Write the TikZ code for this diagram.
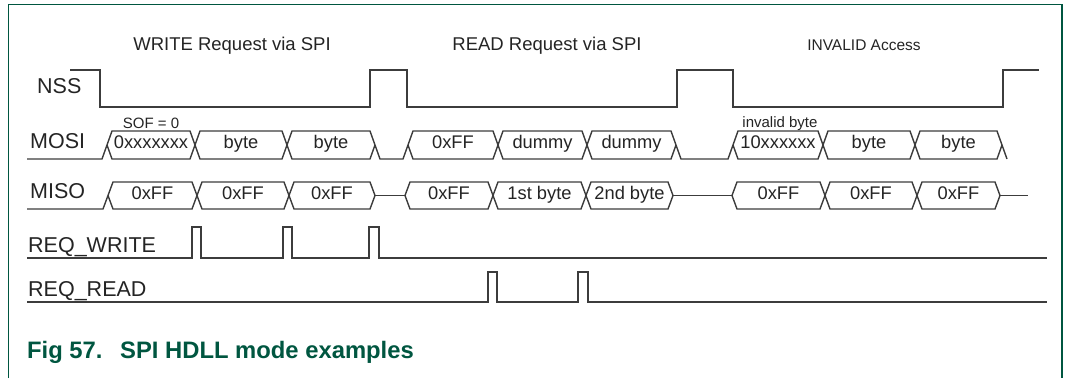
\documentclass[tikz,border=0pt]{standalone}
\usepackage{fontspec}
\setmainfont{Liberation Sans}
\definecolor{nxpgreen}{RGB}{0,86,64}
\definecolor{sig}{RGB}{60,60,60}
\definecolor{txt}{RGB}{36,36,36}
\newcommand\bcell[6]{% #1 xa, #2 xb, #3 top, #4 bottom, #5 name, #6 text
  \draw[wave] (#1,{(#3+#4)/2}) -- ({#1+5},#3) -- ({#2-5},#3) -- (#2,{(#3+#4)/2}) -- ({#2-5},#4) -- ({#1+5},#4) -- cycle;
  \node[celltext] (#5) at ({(#1+#2)/2},{(#3+#4)/2}) {#6};
}
\begin{document}
\begin{tikzpicture}[x=1pt,y=-1pt,
  wave/.style={draw=sig, line width=1.4pt, line join=miter},
  celltext/.style={font=\fontsize{18.3}{18.3}\selectfont, text=txt, inner sep=0pt, text height=0.716em, text depth=0pt},
  siglabel/.style={font=\fontsize{21.5}{21.5}\selectfont, text=txt, inner sep=0pt, text height=0.716em, text depth=0pt, anchor=west},
  title/.style={font=\fontsize{18.5}{18.5}\selectfont, text=txt, inner sep=0pt, text height=0.716em, text depth=0pt},
  note/.style={font=\fontsize{15}{15}\selectfont, text=txt, inner sep=0pt, anchor=base},
  caption/.style={font=\fontsize{23.8}{23.8}\selectfont\bfseries, text=nxpgreen, inner sep=0pt, text height=0.716em, text depth=0pt, anchor=west}]
\useasboundingbox (0,0) rectangle (1066,378);
% frame
\draw[nxpgreen, line width=1.4pt] (8.5,378) -- (8.5,4.5) -- (1062,4.5) -- (1062,378);

% titles
\node[title] (t1) at (232,47) {WRITE Request via SPI};
\node[title] (t2) at (547,47) {READ Request via SPI};
\node[title, font=\fontsize{15.5}{15.5}\selectfont] (t3) at (864,47) {INVALID Access};

% labels
\node[siglabel] (lnss) at (37,90) {NSS};
\node[siglabel] (lmosi) at (30,145) {MOSI};
\node[siglabel] (lmiso) at (30,194.5) {MISO};
\node[siglabel] (lrw) at (28,248.5) {REQ\_WRITE};
\node[siglabel] (lrr) at (28,292.5) {REQ\_READ};

% NSS
\draw[wave] (70,70) -- (100,70) -- (100,107) -- (370,107) -- (370,70) -- (407,70) -- (407,107)
  -- (677,107) -- (677,70) -- (733,70) -- (733,107) -- (1003,107) -- (1003,70) -- (1039,70);

% MOSI
\draw[wave] (27,159) -- (102,159) -- (107,145);
\bcell{107}{195}{131}{159}{mo1}{0xxxxxxx}
\bcell{195}{287}{131}{159}{mo2}{byte}
\bcell{287}{375}{131}{159}{mo3}{byte}
\draw[wave] (375,145) -- (380,159) -- (403,159) -- (408,145);
\bcell{408}{498}{131}{159}{mo4}{0xFF}
\bcell{498}{587}{131}{159}{mo5}{dummy}
\bcell{587}{676}{131}{159}{mo6}{dummy}
\draw[wave] (676,145) -- (681,159) -- (728,159) -- (733,145);
\bcell{733}{823}{131}{159}{mo7}{10xxxxxx}
\bcell{823}{915}{131}{159}{mo8}{byte}
\bcell{915}{1002}{131}{159}{mo9}{byte}
\draw[wave] (1002,145) -- (1007,159);
\node[note] (sof) at (151,128) {SOF = 0};
\node[note] (inv) at (780,127) {invalid byte};

% MISO
\draw[wave] (27,209) -- (103,209) -- (108,195.5);
\bcell{108}{197}{182}{209}{mi1}{0xFF}
\bcell{197}{289}{182}{209}{mi2}{0xFF}
\bcell{289}{375}{182}{209}{mi3}{0xFF}
\draw[wave] (375,195.5) -- (405,195.5);
\bcell{405}{493}{182}{209}{mi4}{0xFF}
\bcell{493}{586}{182}{209}{mi5}{1st byte}
\bcell{586}{673}{182}{209}{mi6}{2nd byte}
\draw[wave] (673,195.5) -- (732,195.5);
\bcell{732}{825}{182}{209}{mi7}{0xFF}
\bcell{825}{917}{182}{209}{mi8}{0xFF}
\bcell{917}{1000}{182}{209}{mi9}{0xFF}
\draw[wave] (1000,195.5) -- (1028,195.5);

% REQ_WRITE
\draw[wave] (27,258) -- (192,258) -- (192,227) -- (201,227) -- (201,258) -- (283,258) -- (283,227)
  -- (292,227) -- (292,258) -- (369,258) -- (369,227) -- (379,227) -- (379,258) -- (1047,258);
% REQ_READ
\draw[wave] (27,302) -- (488,302) -- (488,272) -- (497,272) -- (497,302) -- (578,302) -- (578,272)
  -- (588,272) -- (588,302) -- (1047,302);

% caption
\node[caption] (cap1) at (27,355) {Fig 57.};
\node[caption] (cap2) at (120,355) {SPI HDLL mode examples};
\end{tikzpicture}
\end{document}
